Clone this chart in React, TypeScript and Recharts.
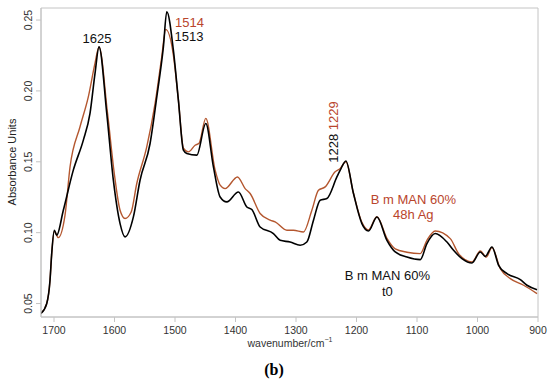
import {
  LineChart,
  Line,
  XAxis,
  YAxis,
  ReferenceArea,
  ReferenceDot,
} from "recharts";

// t0 spectrum (black)
const t0Wave = [
  1721.5, 1712.1, 1706.6, 1703.8, 1699.5, 1695.5, 1684.6, 1668.1, 1651.5, 1640.5,
  1632.2, 1625.6, 1612.8, 1601.9, 1590.8, 1582.6, 1568.8, 1557.8, 1541.2, 1530.1,
  1519.2, 1513.6, 1502.7, 1494.4, 1486.1, 1480.5, 1464, 1449.1, 1436.5, 1425.4,
  1414.4, 1395.2, 1381.3, 1373, 1359.3, 1337.3, 1326.2, 1309.7, 1293.1, 1282.1,
  1271.1, 1260.1, 1248.9, 1232.4, 1226.9, 1217.5, 1205, 1191.1, 1180.2, 1166.3,
  1149.7, 1136, 1116.6, 1094.6, 1083.6, 1069.9, 1050.5, 1039.6, 1025.7, 1009.1,
  995.4, 987.1, 976.1, 965.1, 951.2, 929.2, 918.2, 901.6,
];
const t0Abs = [
  0.0431, 0.0499, 0.0664, 0.0852, 0.1017, 0.0982, 0.1158, 0.1441, 0.1653, 0.1841,
  0.2124, 0.2311, 0.1841, 0.137, 0.1064, 0.097, 0.1111, 0.137, 0.1629, 0.1958,
  0.2311, 0.2559, 0.2288, 0.1935, 0.1582, 0.1559, 0.1547, 0.177, 0.1464, 0.1252,
  0.1217, 0.1287, 0.1181, 0.1163, 0.104, 0.0994, 0.0946, 0.0934, 0.0911, 0.0934,
  0.1088, 0.1229, 0.1241, 0.1393, 0.1441, 0.1506, 0.1276, 0.1064, 0.1012, 0.1111,
  0.0946, 0.0864, 0.0828, 0.081, 0.0923, 0.0994, 0.0934, 0.0876, 0.0817, 0.0786,
  0.0864, 0.0833, 0.0899, 0.077, 0.0711, 0.0669, 0.0629, 0.0598,
];

// 48h Ag spectrum (brown)
const agWave = [
  1721.5, 1712.1, 1706.6, 1703.8, 1699.5, 1692.9, 1681.8, 1673.5, 1657, 1643.3,
  1632.2, 1625.6, 1611.5, 1600, 1590.8, 1582.6, 1572.6, 1563.2, 1546.7, 1532.9,
  1521.9, 1515.3, 1502.7, 1494.4, 1486.1, 1477.9, 1466.8, 1460.2, 1449.1, 1433.7,
  1425.4, 1417.2, 1396.8, 1384.1, 1375.8, 1359.3, 1342.7, 1334.5, 1315.1, 1304.2,
  1287.7, 1273.8, 1262.9, 1251.8, 1235.3, 1226.9, 1217.5, 1205, 1191.1, 1180.2,
  1166.3, 1149.7, 1136, 1116.6, 1094.6, 1083.6, 1069.9, 1045, 1031.3, 1009.1,
  995.4, 985.5, 976.1, 962.3, 945.8, 923.8, 901.6,
];
const agAbs = [
  0.0431, 0.0499, 0.0664, 0.0852, 0.101, 0.0965, 0.1123, 0.1464, 0.1747, 0.1958,
  0.2196, 0.2311, 0.1841, 0.1405, 0.1158, 0.11, 0.1144, 0.1347, 0.1605, 0.1912,
  0.2241, 0.2434, 0.2253, 0.1935, 0.1596, 0.157, 0.1617, 0.1631, 0.1806, 0.1441,
  0.1335, 0.1311, 0.1393, 0.1311, 0.1276, 0.1135, 0.1088, 0.1076, 0.1017, 0.1017,
  0.1005, 0.1158, 0.1299, 0.1323, 0.1429, 0.1453, 0.15, 0.1278, 0.1073, 0.102,
  0.1112, 0.096, 0.0886, 0.0862, 0.0852, 0.0946, 0.1012, 0.0958, 0.0852, 0.0793,
  0.0871, 0.0828, 0.0895, 0.0746, 0.0676, 0.0629, 0.057,
];

const xTicks = [1700, 1600, 1500, 1400, 1300, 1200, 1100, 1000, 900];
const yTicks = [0.05, 0.1, 0.15, 0.2, 0.25];

const RED = "#b9452c";
const BROWN = "#b4572f";

// text annotations: [wavenumber, absorbance, text, colour, rotated]
const notes: [number, number, string, string, boolean][] = [
  [1628.9, 0.2373, "1625", "#111", false],
  [1476, 0.2486, "1514", RED, false],
  [1477, 0.2387, "1513", "#111", false],
  [1238.5, 0.1595, "1228", "#111", true],
  [1238.5, 0.1825, "1229", RED, true],
  [1106, 0.1236, "B m MAN 60%", RED, false],
  [1106, 0.113, "48h Ag", RED, false],
  [1149, 0.0699, "B m MAN 60%", "#111", false],
  [1149, 0.0586, "t0", "#111", false],
];

const t0Data = t0Wave.map((w, i) => ({ w, v: t0Abs[i] }));
const agData = agWave.map((w, i) => ({ w, v: agAbs[i] }));

const FONT = "'Liberation Sans', Arial, sans-serif";

const YTick = ({ y, payload }: any) => (
  <text
    x={28}
    y={y}
    transform={`rotate(-90 28 ${y})`}
    textAnchor="middle"
    dominantBaseline="central"
    fontSize={10.5}
    fontFamily={FONT}
    fill="#333"
  >
    {payload.value.toFixed(2)}
  </text>
);

const XTick = ({ x, payload }: any) => (
  <text
    x={x}
    y={330}
    textAnchor="middle"
    dominantBaseline="central"
    fontSize={10.5}
    fontFamily={FONT}
    fill="#333"
  >
    {payload.value}
  </text>
);

const noteLabel = (text: string, color: string, rotated: boolean) => (props: any) => {
  const vb = props.viewBox || {};
  const cx = vb.x + (vb.width || 0) / 2;
  const cy = vb.y + (vb.height || 0) / 2;
  return (
    <text
      x={cx}
      y={cy}
      transform={rotated ? `rotate(-90 ${cx} ${cy})` : undefined}
      textAnchor="middle"
      dominantBaseline="central"
      fontSize={13}
      fontFamily={FONT}
      fill={color}
    >
      {text}
    </text>
  );
};

export default function App() {
  return (
    <div style={{ position: "absolute", left: 0, top: 0, background: "#fff" }}>
      <LineChart width={550} height={382} margin={{ top: 8, right: 12, left: 0, bottom: 0 }}>
        <XAxis
          dataKey="w"
          type="number"
          domain={[900, 1721.5]}
          reversed
          ticks={xTicks}
          tick={<XTick />}
          tickSize={5}
          height={65}
          stroke="#c4c4c4"
          allowDataOverflow
        />
        <YAxis
          type="number"
          domain={[0.0405, 0.2585]}
          ticks={yTicks}
          tick={<YTick />}
          tickSize={5}
          width={41}
          stroke="#c4c4c4"
          allowDataOverflow
        />
        <ReferenceArea
          x1={1721.5}
          x2={900}
          y1={0.0405}
          y2={0.2585}
          stroke="#c4c4c4"
          fill="none"
          ifOverflow="visible"
        />
        <Line
          data={agData}
          dataKey="v"
          type="monotone"
          stroke={BROWN}
          strokeWidth={1.4}
          dot={false}
          isAnimationActive={false}
        />
        <Line
          data={t0Data}
          dataKey="v"
          type="monotone"
          stroke="#000"
          strokeWidth={1.6}
          dot={false}
          isAnimationActive={false}
        />
        {notes.map(([w, v, t, c, r], i) => (
          <ReferenceDot
            key={i}
            x={w}
            y={v}
            r={0}
            fill="none"
            stroke="none"
            ifOverflow="visible"
            label={noteLabel(t, c, r)}
          />
        ))}
        <text
          x={12}
          y={162}
          transform="rotate(-90 12 162)"
          textAnchor="middle"
          dominantBaseline="central"
          fontSize={11}
          fontFamily={FONT}
          fill="#222"
        >
          Absorbance Units
        </text>
        <text
          x={290}
          y={343}
          textAnchor="middle"
          dominantBaseline="central"
          fontSize={10.5}
          fontFamily={FONT}
          fill="#333"
        >
          wavenumber/cm<tspan dy={-4} fontSize={7}>−1</tspan>
        </text>
        <text
          x={274}
          y={369}
          textAnchor="middle"
          dominantBaseline="central"
          fontSize={16}
          fontWeight="bold"
          fontFamily="'Liberation Serif', 'Times New Roman', serif"
          fill="#000"
        >
          (b)
        </text>
      </LineChart>
    </div>
  );
}
